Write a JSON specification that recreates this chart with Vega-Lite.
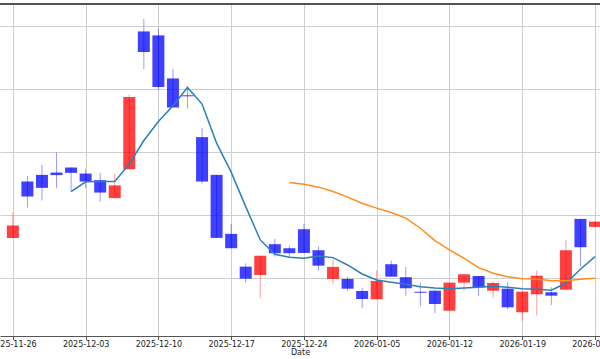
{
  "$schema": "https://vega.github.io/schema/vega-lite/v6.json",
  "width": 600,
  "height": 332,
  "autosize": {"type": "none"},
  "padding": {"left": 0, "right": 0, "top": 4, "bottom": 23},
  "background": "white",
  "config": {
    "view": {"stroke": null},
    "font": "DejaVu Sans"
  },
  "data": {
    "values": [
      {"i": 0, "o": 66.38, "h": 70.41, "l": 66.38, "c": 68.34, "ma5": null, "ma20": null},
      {"i": 1, "o": 75.34, "h": 76.24, "l": 71.2, "c": 72.95, "ma5": null, "ma20": null},
      {"i": 2, "o": 76.4, "h": 77.99, "l": 72.31, "c": 74.34, "ma5": null, "ma20": null},
      {"i": 3, "o": 76.77, "h": 79.95, "l": 74.34, "c": 76.36, "ma5": null, "ma20": null},
      {"i": 4, "o": 77.57, "h": 77.57, "l": 73.78, "c": 76.72, "ma5": 73.75, "ma20": null},
      {"i": 5, "o": 76.61, "h": 77.36, "l": 74.29, "c": 75.34, "ma5": 75.29, "ma20": null},
      {"i": 6, "o": 75.56, "h": 76.72, "l": 72.16, "c": 73.59, "ma5": 75.34, "ma20": null},
      {"i": 7, "o": 72.71, "h": 76.61, "l": 72.71, "c": 74.73, "ma5": 75.34, "ma20": null},
      {"i": 8, "o": 77.31, "h": 89.13, "l": 77.31, "c": 88.77, "ma5": 78.11, "ma20": null},
      {"i": 9, "o": 99.2, "h": 101.18, "l": 93.22, "c": 95.93, "ma5": 81.86, "ma20": null},
      {"i": 10, "o": 98.57, "h": 99.59, "l": 89.93, "c": 90.36, "ma5": 84.88, "ma20": null},
      {"i": 11, "o": 91.73, "h": 93.22, "l": 87.11, "c": 87.11, "ma5": 87.38, "ma20": null},
      {"i": 12, "o": 89.05, "h": 90.45, "l": 86.95, "c": 88.89, "ma5": 90.29, "ma20": null},
      {"i": 13, "o": 82.4, "h": 83.83, "l": 75.02, "c": 75.34, "ma5": 87.65, "ma20": null},
      {"i": 14, "o": 76.4, "h": 76.4, "l": 66.38, "c": 66.38, "ma5": 81.45, "ma20": null},
      {"i": 15, "o": 67.02, "h": 68.61, "l": 64.74, "c": 64.74, "ma5": 76.83, "ma20": null},
      {"i": 16, "o": 61.81, "h": 62.35, "l": 59.27, "c": 59.9, "ma5": 71.36, "ma20": null},
      {"i": 17, "o": 60.49, "h": 63.56, "l": 56.79, "c": 63.56, "ma5": 66.06, "ma20": null},
      {"i": 18, "o": 65.38, "h": 66.22, "l": 63.41, "c": 63.95, "ma5": 63.79, "ma20": null},
      {"i": 19, "o": 64.74, "h": 65.16, "l": 63.25, "c": 63.95, "ma5": 63.31, "ma20": 75.18},
      {"i": 20, "o": 67.76, "h": 68.61, "l": 63.99, "c": 63.99, "ma5": 63.15, "ma20": 74.92},
      {"i": 21, "o": 64.42, "h": 65.0, "l": 61.18, "c": 61.97, "ma5": 63.52, "ma20": 74.45},
      {"i": 22, "o": 59.86, "h": 62.99, "l": 59.01, "c": 61.77, "ma5": 63.25, "ma20": 73.75},
      {"i": 23, "o": 59.86, "h": 60.22, "l": 57.99, "c": 58.31, "ma5": 62.08, "ma20": 72.86},
      {"i": 24, "o": 57.95, "h": 58.42, "l": 55.19, "c": 56.67, "ma5": 60.65, "ma20": 71.9},
      {"i": 25, "o": 56.63, "h": 61.18, "l": 56.63, "c": 59.54, "ma5": 59.7, "ma20": 71.11},
      {"i": 26, "o": 62.2, "h": 62.77, "l": 60.22, "c": 60.22, "ma5": 59.33, "ma20": 70.41},
      {"i": 27, "o": 60.13, "h": 61.77, "l": 57.2, "c": 58.38, "ma5": 59.01, "ma20": 69.52},
      {"i": 28, "o": 57.82, "h": 59.27, "l": 55.51, "c": 57.66, "ma5": 58.63, "ma20": 67.92},
      {"i": 29, "o": 57.99, "h": 58.11, "l": 54.4, "c": 55.88, "ma5": 58.42, "ma20": 65.95},
      {"i": 30, "o": 54.81, "h": 59.27, "l": 54.81, "c": 59.27, "ma5": 58.31, "ma20": 64.47},
      {"i": 31, "o": 59.27, "h": 60.6, "l": 57.99, "c": 60.6, "ma5": 58.42, "ma20": 63.15},
      {"i": 32, "o": 60.33, "h": 60.33, "l": 57.15, "c": 58.54, "ma5": 58.54, "ma20": 61.65},
      {"i": 33, "o": 57.99, "h": 59.43, "l": 56.88, "c": 59.22, "ma5": 58.7, "ma20": 60.76},
      {"i": 34, "o": 58.31, "h": 59.38, "l": 55.04, "c": 55.35, "ma5": 58.54, "ma20": 60.22},
      {"i": 35, "o": 54.56, "h": 57.84, "l": 53.22, "c": 57.84, "ma5": 58.31, "ma20": 59.9},
      {"i": 36, "o": 57.42, "h": 61.18, "l": 54.08, "c": 60.38, "ma5": 58.22, "ma20": 59.86},
      {"i": 37, "o": 57.74, "h": 58.54, "l": 55.72, "c": 57.2, "ma5": 58.06, "ma20": 59.59},
      {"i": 38, "o": 58.15, "h": 66.01, "l": 58.15, "c": 64.42, "ma5": 59.17, "ma20": 59.59},
      {"i": 39, "o": 69.4, "h": 69.4, "l": 61.81, "c": 64.9, "ma5": 61.4, "ma20": 59.81},
      {"i": 40, "o": 68.13, "h": 68.97, "l": 68.13, "c": 68.97, "ma5": 63.41, "ma20": 59.97}
    ]
  },
  "layer": [
    {
      "mark": {"type": "rule", "strokeWidth": 1, "opacity": 0.4, "clip": true},
      "encoding": {
        "x": {
          "field": "i",
          "type": "quantitative",
          "scale": {"domain": [-0.54, 40.0], "nice": false, "zero": false},
          "axis": {
            "values": [0, 5, 10, 15, 20, 25, 30, 35, 40],
            "labelExpr": "['2025-11-26','2025-12-03','2025-12-10','2025-12-17','2025-12-24','2026-01-05','2026-01-12','2026-01-19','2026-01-26'][round(datum.value/5)]",
            "title": "Date",
            "grid": true,
            "gridColor": "#cfcfcf",
            "gridWidth": 1,
            "domainColor": "#555555",
            "domainWidth": 1,
            "tickColor": "#555555",
            "tickSize": 3.5,
            "labelFont": "DejaVu Sans",
            "labelFontSize": 8,
            "labelColor": "#222222",
            "labelPadding": 1,
            "labelFlush": false,
            "labelOverlap": false,
            "titleFont": "DejaVu Sans",
            "titleFontSize": 8,
            "titleFontWeight": "normal",
            "titleColor": "#222222",
            "titlePadding": 0
          }
        },
        "y": {
          "field": "l",
          "type": "quantitative",
          "scale": {"domain": [50.79, 103.56], "nice": false, "zero": false},
          "axis": {"values": [60, 70, 80, 90, 100], "grid": true, "gridColor": "#cfcfcf", "gridWidth": 1, "labels": false, "ticks": false, "domain": false, "title": null}
        },
        "y2": {"field": "h"},
        "color": {"condition": {"test": "datum.c > datum.o", "value": "#ff0000"}, "value": "#0000ff"}
      }
    },
    {
      "mark": {"type": "bar", "width": 12, "opacity": 0.75, "clip": true, "minBandSize": 1},
      "encoding": {
        "x": {"field": "i", "type": "quantitative"},
        "y": {"field": "o", "type": "quantitative"},
        "y2": {"field": "c"},
        "color": {"condition": {"test": "datum.c > datum.o", "value": "#ff0000"}, "value": "#0000ff"}
      }
    },
    {
      "mark": {"type": "line", "color": "#2a80b9", "strokeWidth": 1.5, "clip": true},
      "encoding": {
        "x": {"field": "i", "type": "quantitative"},
        "y": {"field": "ma5", "type": "quantitative"}
      }
    },
    {
      "mark": {"type": "line", "color": "#ff8c1a", "strokeWidth": 1.5, "clip": true},
      "encoding": {
        "x": {"field": "i", "type": "quantitative"},
        "y": {"field": "ma20", "type": "quantitative"}
      }
    },
    {
      "mark": {"type": "rule", "color": "#555555", "strokeWidth": 1},
      "encoding": {"y": {"datum": 103.56}}
    }
  ]
}
